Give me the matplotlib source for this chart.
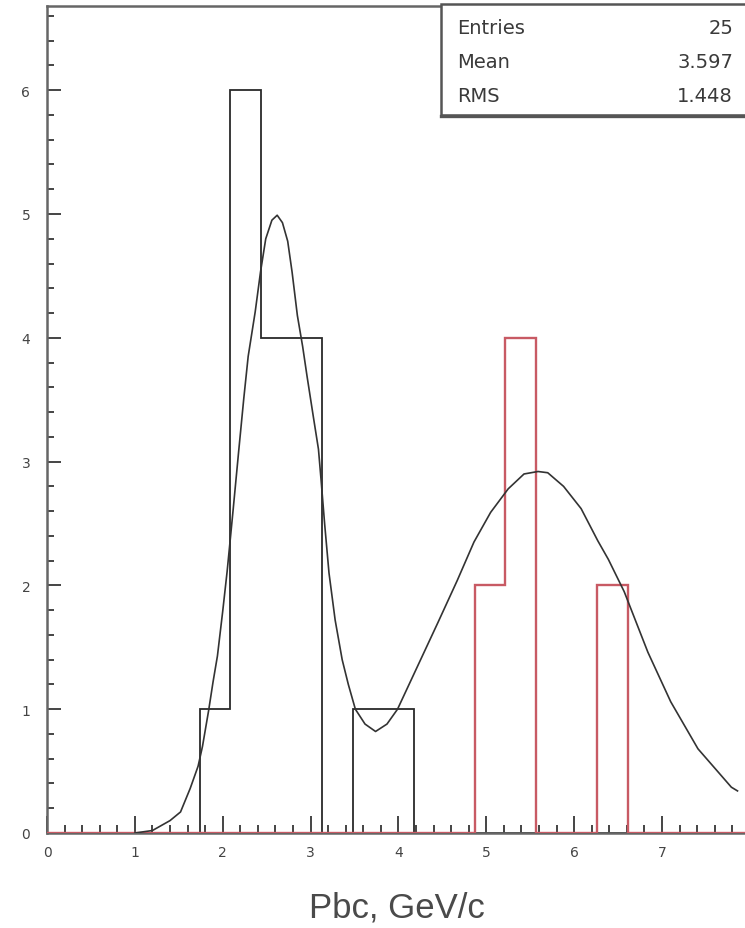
import numpy as np
import matplotlib
matplotlib.use("Agg")
import matplotlib.pyplot as plt
from matplotlib.patches import Rectangle
from matplotlib.ticker import MultipleLocator

# ---- data ----
n_bins = 23
x_min, x_max = 0.0, 8.0
black_counts = [0, 0, 0, 0, 0, 1, 6, 4, 4, 0, 1, 1, 0, 0, 0, 0, 0, 0, 0, 0, 0, 0, 0]
red_counts   = [0, 0, 0, 0, 0, 0, 0, 0, 0, 0, 0, 0, 0, 0, 2, 4, 0, 0, 2, 0, 0, 0, 0]

fit_x = [1.00, 1.20, 1.40, 1.52, 1.63, 1.72, 1.77, 1.84, 1.89, 1.94, 2.00, 2.05,
         2.09, 2.12, 2.18, 2.24, 2.29, 2.37, 2.43, 2.49, 2.56, 2.62, 2.68, 2.74,
         2.79, 2.85, 2.91, 2.96, 3.03, 3.09, 3.12, 3.16, 3.21, 3.28, 3.36, 3.43,
         3.51, 3.62, 3.74, 3.87, 3.99, 4.22, 4.45, 4.67, 4.86, 5.05, 5.25, 5.43,
         5.59, 5.70, 5.88, 6.08, 6.27, 6.39, 6.57, 6.84, 7.10, 7.41, 7.79, 7.86]
fit_y = [0.00, 0.02, 0.10, 0.17, 0.36, 0.54, 0.70, 0.99, 1.22, 1.43, 1.79, 2.11,
         2.40, 2.62, 3.07, 3.51, 3.85, 4.21, 4.53, 4.80, 4.95, 4.99, 4.93, 4.78,
         4.53, 4.18, 3.93, 3.69, 3.37, 3.10, 2.85, 2.50, 2.10, 1.72, 1.40, 1.20,
         1.00, 0.88, 0.82, 0.88, 1.00, 1.35, 1.70, 2.04, 2.35, 2.59, 2.78, 2.90,
         2.92, 2.91, 2.80, 2.62, 2.36, 2.21, 1.95, 1.46, 1.06, 0.68, 0.37, 0.34]

stat_names = ["Entries", "Mean", "RMS"]
stat_values = ["25", "3.597", "1.448"]
x_label = "Pbc, GeV/c"

# ---- figure ----
W, H = 745, 929
fig = plt.figure(figsize=(W / 100, H / 100), dpi=100)
ax_l, ax_r, ax_t, ax_b = 47, 756, 7, 834
ax = fig.add_axes([ax_l / W, 1 - ax_b / H, (ax_r - ax_l) / W, (ax_b - ax_t) / H])

px_per_unit = 87.85
ax.set_xlim(0, (ax_r - ax_l) / px_per_unit)
ax.set_ylim(0, 6.68)

edges = np.linspace(x_min, x_max, n_bins + 1)
ax.stairs(black_counts, edges, baseline=0, color="#2a2a2a", lw=1.3, zorder=2)
ax.stairs(red_counts, edges, baseline=0, color="#c85a64", lw=1.7, zorder=3)
ax.plot(fit_x, fit_y, color="#333333", lw=1.2, zorder=4)

# axes styling
ax.spines["right"].set_visible(False)
for s in ["left", "top", "bottom"]:
    ax.spines[s].set_color("#666666")
    ax.spines[s].set_linewidth(1.8)

ax.xaxis.set_major_locator(MultipleLocator(1))
ax.xaxis.set_minor_locator(MultipleLocator(0.2))
ax.yaxis.set_major_locator(MultipleLocator(1))
ax.yaxis.set_minor_locator(MultipleLocator(0.2))
ax.tick_params(axis="both", which="both", direction="in", color="#444444", width=1.4,
               labelsize=10, labelcolor="#444444")
ax.tick_params(axis="x", which="major", length=12, pad=9)
ax.tick_params(axis="x", which="minor", length=6)
ax.tick_params(axis="y", which="major", length=10, pad=12)
ax.tick_params(axis="y", which="minor", length=5)
ax.tick_params(top=False, right=False, which="both")

# x label
fig.text(397 / W, 1 - 908 / H, x_label, ha="center", va="center",
         family="Liberation Sans", fontsize=25, color="#4a4a4a")

# stats box
box = Rectangle((441 / W, 1 - 116 / H), (W + 10 - 441) / W, (116 - 5) / H,
                transform=fig.transFigure, facecolor="white", edgecolor="#555555",
                lw=1.8, clip_on=False, zorder=10)
fig.patches.append(box)
fig.add_artist(plt.Line2D([441 / W, 1.0], [1 - 117 / H, 1 - 117 / H],
                          transform=fig.transFigure, color="#555555", lw=2.4, zorder=11))
rows_y = [28, 63, 97]
for name, val, yy in zip(stat_names, stat_values, rows_y):
    fig.text(457 / W, 1 - yy / H, name, ha="left", va="center", fontsize=14,
             color="#3a3a3a", zorder=12)
    fig.text(733 / W, 1 - yy / H, val, ha="right", va="center", fontsize=14,
             color="#3a3a3a", zorder=12)

fig.savefig("out.png", dpi=100)
